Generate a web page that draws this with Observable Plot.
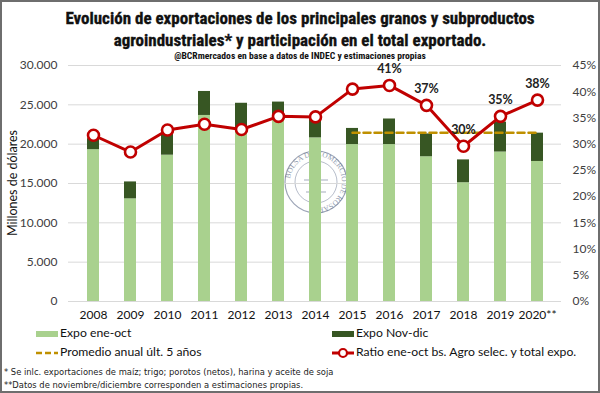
<!DOCTYPE html>
<html>
<head>
<meta charset="utf-8">
<script src="https://cdn.jsdelivr.net/npm/d3@7"></script>
<script src="https://cdn.jsdelivr.net/npm/@observablehq/plot@0.6"></script>
<style>
  html, body { margin: 0; padding: 0; background: #fff; }
  #chart { position: relative; width: 600px; height: 393px; overflow: hidden; background: #fff; }
  #frame { position: absolute; left: 0; top: 0; width: 600px; height: 393px; box-sizing: border-box; border: 2px solid #6e6e6e; pointer-events: none; z-index: 5; }
  .title { position: absolute; left: 0; width: 600px; text-align: center; font-family: "Roboto Condensed", "Liberation Sans Narrow", "DejaVu Sans Condensed", sans-serif; font-weight: bold; color: #111; }
  #t1 { top: 7px; font-size: 17px; line-height: 22px; -webkit-text-stroke: 0.35px #111; }
  #sub { top: 50px; font-size: 9.6px; line-height: 12px; }
  .leg { position: absolute; font-family: Lato, "Open Sans", sans-serif; font-size: 12.2px; color: #111; line-height: 14px; white-space: nowrap; }
  .leg svg { vertical-align: middle; margin-right: 2px; }
  .foot { position: absolute; left: 4px; font-family: "Liberation Sans Narrow", "DejaVu Sans Condensed", sans-serif; font-size: 9.3px; color: #222; white-space: nowrap; }
  #ylab { position: absolute; left: 12px; top: 183px; transform: translate(-50%, -50%) rotate(-90deg); font-family: Lato, sans-serif; font-size: 12.5px; color: #111; white-space: nowrap; }
  #seal { position: absolute; left: 0; top: 0; }
  #plot { position: absolute; left: 0; top: 0; }
</style>
</head>
<body>
<div id="chart">
  <svg id="seal" width="600" height="393"></svg>
  <div id="plot"></div>
  <div class="title" id="t1">Evolución de exportaciones de los principales granos y subproductos<br>agroindustriales* y participación en el total exportado.</div>
  <div class="title" id="sub">@BCRmercados en base a datos de INDEC y estimaciones propias</div>
  <div id="ylab">Millones de dólares</div>
  <div class="leg" style="left:36px; top:326px;"><svg width="22" height="8"><rect x="0" y="1" width="22" height="6" fill="#a9d18e"/></svg>Expo ene-oct</div>
  <div class="leg" style="left:332px; top:326px;"><svg width="22" height="8"><rect x="0" y="1" width="22" height="6" fill="#375623"/></svg>Expo Nov-dic</div>
  <div class="leg" style="left:36px; top:345px;"><svg width="22" height="8"><line x1="0" y1="4" x2="22" y2="4" stroke="#bf9000" stroke-width="2.5" stroke-dasharray="6,3"/></svg>Promedio anual últ. 5 años</div>
  <div class="leg" style="left:332px; top:345px;"><svg width="22" height="12"><line x1="0" y1="6" x2="22" y2="6" stroke="#c00000" stroke-width="3"/><circle cx="11" cy="6" r="4" fill="#fff" stroke="#c00000" stroke-width="2.2"/></svg>Ratio ene-oct bs. Agro selec. y total expo.</div>
  <div class="foot" style="top:366px;">* Se inlc. exportaciones de maíz; trigo; porotos (netos), harina y aceite de soja</div>
  <div class="foot" style="top:379px;">**Datos de noviembre/diciembre corresponden a estimaciones propias.</div>
  <div id="frame"></div>
</div>
<script>
// ---- Data ----
const anios = ["2008","2009","2010","2011","2012","2013","2014","2015","2016","2017","2018","2019","2020**"];
const expoEneOct = [19300, 13050, 18600, 23650, 21600, 23100, 20800, 19950, 19950, 18400, 15100, 19000, 17800];
const expoNovDic = [1400, 2150, 2650, 3050, 3600, 2250, 2600, 2050, 3250, 2900, 2900, 3800, 3600];
const ratioPct = [31.7, 28.5, 32.7, 33.8, 32.8, 35.3, 35.2, 40.5, 41.2, 37.4, 29.6, 35.3, 38.4];
const promedioAnios = ["2015","2016","2017","2018","2019","2020**"];
const promedioValor = 21460;
const aniosConEtiqueta = ["2016","2017","2018","2019","2020**"];
const ticksIzq = [0, 5000, 10000, 15000, 20000, 25000, 30000];
const ticksDerPct = [0, 5, 10, 15, 20, 25, 30, 35, 40, 45];

// ---- Build tables ----
const maxIzq = 30000, maxDer = 45;
const esc = maxIzq / maxDer;
const filas = anios.map((a, i) => ({
  anio: a,
  eneOct: expoEneOct[i],
  total: expoEneOct[i] + expoNovDic[i],
  ratio: ratioPct[i],
  ratioY: ratioPct[i] * esc
}));
const promedio = promedioAnios.map(a => ({anio: a, valor: promedioValor}));
const etiquetas = filas.filter(d => aniosConEtiqueta.includes(d.anio));
const fmtMiles = d => String(d).replace(/\B(?=(\d{3})+(?!\d))/g, ".");

const plot = Plot.plot({
  width: 600,
  height: 325,
  marginTop: 65,
  marginBottom: 24,
  marginLeft: 68,
  marginRight: 39,
  style: {background: "transparent", fontFamily: "Lato, 'Open Sans', sans-serif", fontSize: "12px", color: "#333", overflow: "visible"},
  x: {type: "band", domain: anios, paddingInner: 0.68, paddingOuter: 0.36},
  y: {domain: [0, maxIzq]},
  marks: [
    Plot.ruleY(ticksIzq, {stroke: "#d9d9d9", strokeWidth: 1}),
    Plot.axisY({ticks: ticksIzq, tickFormat: fmtMiles, tickSize: 0, tickPadding: 11, label: null, fill: "#404040"}),
    Plot.axisY({anchor: "right", ticks: ticksDerPct.map(p => p * esc), tickFormat: d => Math.round(d / esc) + "%", tickSize: 0, tickPadding: 11, label: null, textAnchor: "start", fill: "#404040"}),
    Plot.axisX({tickSize: 0, tickPadding: 9, label: null, fill: "#111"}),
    Plot.barY(filas, {x: "anio", y1: 0, y2: "eneOct", fill: "#a9d18e"}),
    Plot.barY(filas, {x: "anio", y1: "eneOct", y2: "total", fill: "#375623"}),
    Plot.line(promedio, {x: "anio", y: "valor", stroke: "#bf9000", strokeWidth: 2.5, strokeDasharray: "7,4"}),
    Plot.line(filas, {x: "anio", y: "ratioY", stroke: "#c00000", strokeWidth: 3}),
    Plot.dot(filas, {x: "anio", y: "ratioY", r: 5.5, fill: "#fff", stroke: "#c00000", strokeWidth: 2.6}),
    Plot.text(etiquetas, {x: "anio", y: "ratioY", text: d => Math.round(d.ratio) + "%", dy: -16, fontWeight: "bold", fontSize: 12.5, fill: "#222"})
  ]
});
document.getElementById("plot").appendChild(plot);

// faint watermark seal (decoration behind the plot)
const seal = d3.select("#seal");
const cx = 316, cy = 182;
seal.append("circle").attr("cx", cx).attr("cy", cy).attr("r", 31).attr("fill", "none").attr("stroke", "#4a5a7a").attr("stroke-width", 1.2).attr("opacity", 0.55);
seal.append("circle").attr("cx", cx).attr("cy", cy).attr("r", 21).attr("fill", "none").attr("stroke", "#4a5a7a").attr("stroke-width", 0.8).attr("opacity", 0.5);
seal.append("path").attr("id", "sealpath").attr("fill", "none")
  .attr("d", `M ${cx-26},${cy} a 26,26 0 1,1 52,0 a 26,26 0 1,1 -52,0`);
seal.append("text").attr("font-size", 7.5).attr("font-family", "Liberation Serif, serif").attr("fill", "#4a5a7a").attr("opacity", 0.6)
  .append("textPath").attr("href", "#sealpath").attr("startOffset", "2%").text("BOLSA DE COMERCIO DE ROSARIO");
seal.append("path").attr("d", `M ${cx-12},${cy-2} L ${cx+12},${cy-2} M ${cx},${cy-12} L ${cx},${cy+10} M ${cx-10},${cy+10} L ${cx+10},${cy+10}`)
  .attr("stroke", "#4a5a7a").attr("stroke-width", 1).attr("opacity", 0.5);
</script>
</body>
</html>
